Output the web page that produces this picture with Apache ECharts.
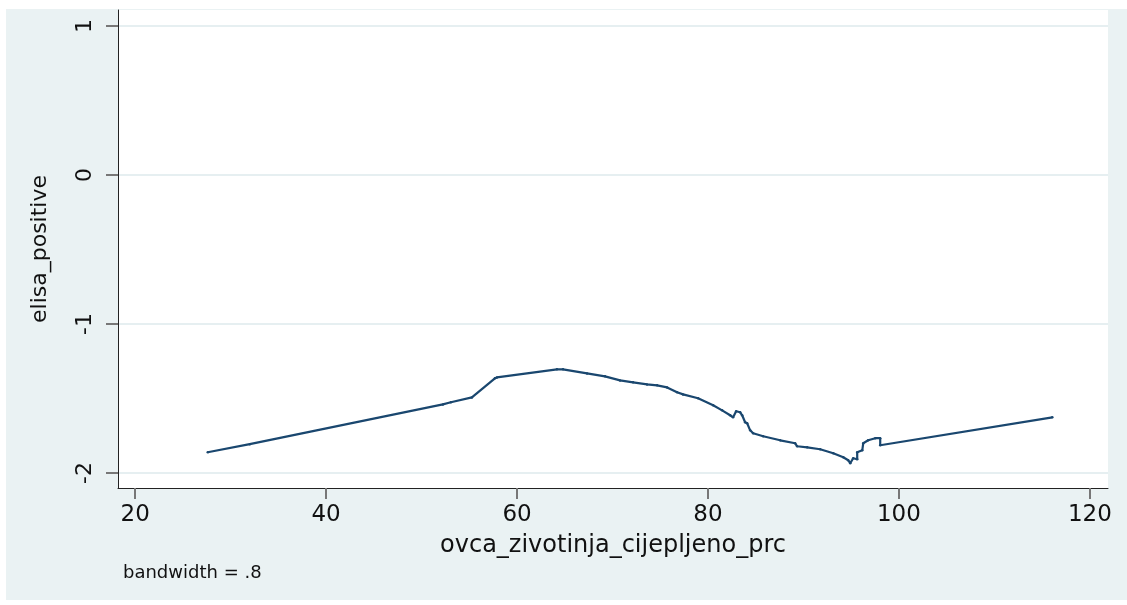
<!DOCTYPE html>
<html>
<head>
<meta charset="utf-8">
<script src="https://cdn.jsdelivr.net/npm/echarts@6/dist/echarts.min.js"></script>
<style>
  html, body { margin: 0; padding: 0; background: #fff; }
  #container { width: 1127px; height: 605px; }
</style>
</head>
<body>
<div id="container"></div>
<script>
// lowess curve
var xVals = [27.60, 32.00, 52.23, 53.07, 55.27, 57.68, 57.89, 64.18, 64.81, 67.33,
             69.21, 70.79, 72.15, 73.62, 74.67, 75.72, 76.76, 77.39, 78.96, 80.54,
             81.48, 82.32, 82.63, 82.95, 83.37, 83.58, 83.89, 84.10, 84.42, 84.73,
             85.78, 87.56, 89.13, 89.34, 90.39, 91.75, 93.12, 94.17, 94.69, 94.90,
             95.21, 95.63, 95.63, 96.16, 96.26, 96.78, 97.52, 98.04, 98.04, 116.07];
var yVals = [-1.860, -1.806, -1.539, -1.525, -1.492, -1.364, -1.358, -1.304, -1.304, -1.331,
             -1.351, -1.378, -1.391, -1.405, -1.411, -1.425, -1.458, -1.472, -1.498, -1.545,
             -1.579, -1.612, -1.626, -1.585, -1.592, -1.612, -1.659, -1.666, -1.713, -1.733,
             -1.753, -1.780, -1.800, -1.820, -1.827, -1.840, -1.867, -1.894, -1.914, -1.934,
             -1.900, -1.907, -1.860, -1.847, -1.800, -1.780, -1.766, -1.766, -1.813, -1.626];
var xTicks = [20, 40, 60, 80, 100, 120];
var yTicks = [-2, -1, 0, 1];

var dom = document.getElementById('container');
var myChart = echarts.init(dom, null, { renderer: 'canvas' });

var points = [];
for (var i = 0; i < xVals.length; i++) {
    points.push([xVals[i], yVals[i]]);
}

var textFont = 'DejaVu Sans';

var option = {
    backgroundColor: '#ffffff',
    animation: false,
    graphic: [
        {
            type: 'rect',
            z: -10,
            shape: { x: 6, y: 9, width: 1121, height: 591 },
            style: { fill: '#eaf2f3' }
        },
        {
            type: 'text',
            left: 123,
            top: 564,
            style: {
                text: 'bandwidth = .8',
                fontFamily: textFont,
                fontSize: 18,
                fill: '#111'
            }
        }
    ],
    grid: {
        left: 118,
        right: 19,
        top: 10,
        bottom: 117,
        show: true,
        backgroundColor: '#ffffff',
        borderWidth: 0
    },
    xAxis: {
        type: 'value',
        min: 18.2,
        max: 121.9,
        name: 'ovca_zivotinja_cijepljeno_prc',
        nameLocation: 'middle',
        nameGap: 46,
        nameTextStyle: { fontFamily: textFont, fontSize: 24, color: '#111' },
        axisLine: { show: true, onZero: false, lineStyle: { color: '#222', width: 1 } },
        axisTick: { show: true, length: 11, customValues: xTicks, lineStyle: { color: '#777', width: 2 } },
        axisLabel: { customValues: xTicks, margin: 16, fontFamily: textFont, fontSize: 23, color: '#111' },
        splitLine: { show: false }
    },
    yAxis: {
        type: 'value',
        min: -2.1,
        max: 1.107,
        name: 'elisa_positive',
        nameLocation: 'middle',
        nameGap: 67,
        nameTextStyle: { fontFamily: textFont, fontSize: 22, color: '#111' },
        axisLine: { show: true, onZero: false, lineStyle: { color: '#222', width: 1 } },
        axisTick: { show: true, length: 12, customValues: yTicks, lineStyle: { color: '#777', width: 2 } },
        axisLabel: { customValues: yTicks, rotate: 90, margin: 22, fontFamily: textFont, fontSize: 22, color: '#111' },
        splitLine: { show: true, customValues: yTicks, lineStyle: { color: '#e6eff1', width: 2 } }
    },
    series: [{
        type: 'line',
        data: points,
        showSymbol: true,
        symbol: 'circle',
        symbolSize: 2.5,
        itemStyle: { color: '#1a476f' },
        lineStyle: { color: '#1a476f', width: 2.2 }
    }]
};

myChart.setOption(option);
</script>
</body>
</html>
